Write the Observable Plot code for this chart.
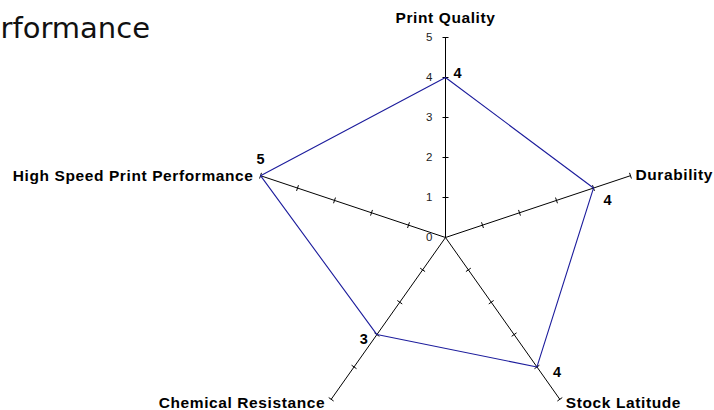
<!DOCTYPE html>
<html>
<head>
<meta charset="utf-8">
<script src="https://cdn.jsdelivr.net/npm/d3@7"></script>
<script src="https://cdn.jsdelivr.net/npm/@observablehq/plot@0.6"></script>
<style>
  html, body { margin: 0; padding: 0; background: #fff; overflow: hidden; }
  #chart svg { display: block; }
  #chart g[font-size="15.5"] text { letter-spacing: 0.6px; }
</style>
</head>
<body>
<div id="chart"></div>
<script>
const title = "rformance";
const categories = ["Print Quality", "Durability", "Stock Latitude", "Chemical Resistance", "High Speed Print Performance"];
const values = [4, 4, 4, 3, 5];
const tickLabels = [0, 1, 2, 3, 4, 5];
const maxValue = 5;

const W = 714, H = 410;
const cx = 445, cy = 237, rx = 194.5, ry = 200;
const xRange = [cx - rx, cx + rx], yRange = [cy + ry, cy - ry];
const ux = rx / maxValue, uy = ry / maxValue;

const ang = i => (i * 72) * Math.PI / 180;
const pt = (i, v) => ({x: v * Math.sin(ang(i)), y: v * Math.cos(ang(i))});

const axes = categories.map((c, i) => ({cat: c, x1: 0, y1: 0, x2: pt(i, maxValue).x, y2: pt(i, maxValue).y}));
const poly = categories.map((c, i) => ({cat: c, value: values[i], ...pt(i, values[i])}));

const tickSegs = [];
categories.forEach((c, i) => {
  const a = ang(i);
  let px = Math.sin(a) * ux, py = -Math.cos(a) * uy;
  const L = Math.hypot(px, py); px /= L; py /= L;
  const qx = -py, qy = px;
  const h = 3;
  tickLabels.filter(k => k > 0).forEach(k => {
    const p = pt(i, k);
    tickSegs.push({
      x1: p.x + qx * h / ux, y1: p.y - qy * h / uy,
      x2: p.x - qx * h / ux, y2: p.y + qy * h / uy
    });
  });
});

const labelPos = [
  {dx: 0, dy: -19, anchor: "middle"},
  {dx: 5, dy: -1, anchor: "start"},
  {dx: 6, dy: 4, anchor: "start"},
  {dx: -6, dy: 4, anchor: "end"},
  {dx: -7, dy: 0, anchor: "end"}
];
const valuePos = [
  {dx: 12, dy: -4}, {dx: 14, dy: 12}, {dx: 20, dy: 5}, {dx: -13, dy: 5}, {dx: 0, dy: -16}
];

const catLabels = categories.map((c, i) => ({cat: c, i, ...pt(i, maxValue)}));
const font = "Liberation Sans, Arial, sans-serif";

const marks = [
  Plot.link(axes, {x1: "x1", y1: "y1", x2: "x2", y2: "y2", stroke: "#000", strokeWidth: 1}),
  Plot.link(tickSegs, {x1: "x1", y1: "y1", x2: "x2", y2: "y2", stroke: "#000", strokeWidth: 1}),
  Plot.line(poly, {x: "x", y: "y", curve: "linear-closed", stroke: "#1c1c9c", strokeWidth: 1.1}),
  Plot.text(tickLabels, {x: 0, y: d => d, text: d => String(d), dx: -13, textAnchor: "end", fontSize: 11.5, fill: "#222", fontFamily: font})
];
labelPos.forEach((lp, i) => {
  marks.push(Plot.text([catLabels[i]], {x: "x", y: "y", text: "cat", dx: lp.dx, dy: lp.dy, textAnchor: lp.anchor,
    fontSize: 15.5, fontWeight: "bold", fill: "#000", fontFamily: font}));
  marks.push(Plot.text([poly[i]], {x: "x", y: "y", text: d => String(d.value), dx: valuePos[i].dx, dy: valuePos[i].dy,
    textAnchor: "middle", fontSize: 14.5, fontWeight: "bold", fill: "#000", fontFamily: font}));
});
marks.push(Plot.text([title], {frameAnchor: "top-left", dx: 0, dy: 17, text: d => d, textAnchor: "start",
  fontSize: 29, fill: "#111", fontFamily: "DejaVu Sans, Verdana, sans-serif"}));

const chart = Plot.plot({
  width: W, height: H,
  margin: 0,
  x: {type: "linear", domain: [-maxValue, maxValue], range: xRange, axis: null},
  y: {type: "linear", domain: [-maxValue, maxValue], range: yRange, axis: null},
  style: {background: "#fff", overflow: "hidden"},
  marks
});
document.getElementById("chart").appendChild(chart);
</script>
</body>
</html>
